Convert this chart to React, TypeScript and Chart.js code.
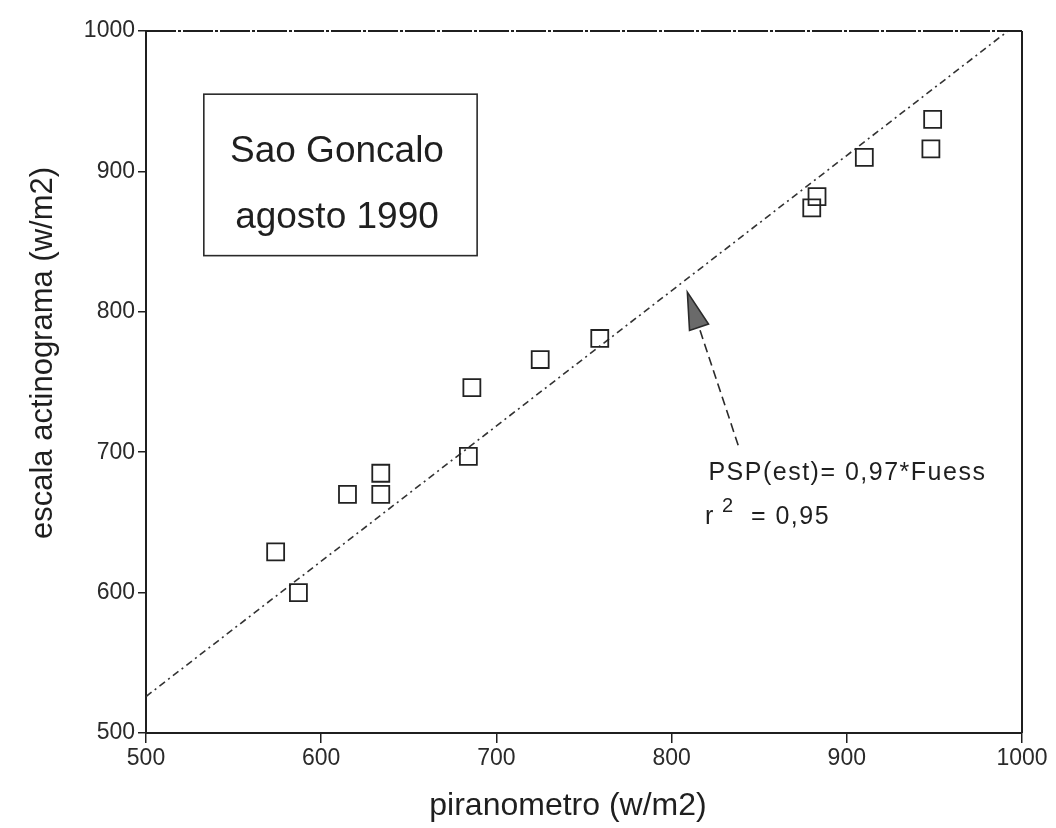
import React, { useEffect, useRef } from "react";
import { Chart, registerables } from "chart.js";

Chart.register(...registerables);

// Measurements: piranometro vs escala actinograma (w/m2)
const piranometro = [574, 587, 615, 634, 634, 684, 686, 725, 759, 880, 883, 910, 949, 948];
const actinograma = [629, 600, 670, 685, 670, 697, 746, 766, 781, 874, 882, 910, 937, 916];

// Fitted line end points
const fitX = [500, 992];
const fitY = [526, 1000];

const axisMin = 500;
const axisMax = 1000;
const axisStep = 100;

const xTitle = "piranometro (w/m2)";
const yTitle = "escala actinograma (w/m2)";
const stationLines = ["Sao Goncalo", "agosto 1990"];
const fitLabel = "PSP(est)= 0,97*Fuess";
const r2Value = "= 0,95";

// Annotation anchors, in axis units
const boxX = [533, 689];
const boxY = [955, 840];
const stationTextX = 609;
const stationBaselines = [907, 860];
const arrowTip = { x: 809, y: 814 };
const arrowTail = { x: 838, y: 705 };
const fitLabelAt = { x: 821, y: 680 };
const r2LabelAt = { x: 819, y: 649 };

const FONT = "'Liberation Sans', Arial, Helvetica, sans-serif";
const INK = "#1f1f1f";

const decorations = {
  id: "decorations",
  afterDatasetsDraw(chart: any) {
    const { ctx, chartArea: a, scales } = chart;
    const sx = scales.x;
    const sy = scales.y;
    const px = (v: number) => sx.getPixelForValue(v);
    const py = (v: number) => sy.getPixelForValue(v);

    ctx.save();

    // top and right edges of the frame
    ctx.strokeStyle = INK;
    ctx.lineWidth = 2;
    ctx.setLineDash([30, 2, 3, 2]);
    ctx.beginPath();
    ctx.moveTo(a.left, a.top);
    ctx.lineTo(a.right, a.top);
    ctx.stroke();
    ctx.setLineDash([]);
    ctx.beginPath();
    ctx.moveTo(a.right, a.top);
    ctx.lineTo(a.right, a.bottom);
    ctx.stroke();

    // station box
    const bx0 = px(boxX[0]);
    const bx1 = px(boxX[1]);
    const by0 = py(boxY[0]);
    const by1 = py(boxY[1]);
    ctx.lineWidth = 1.6;
    ctx.strokeStyle = "#2a2a2a";
    ctx.strokeRect(bx0, by0, bx1 - bx0, by1 - by0);
    ctx.fillStyle = INK;
    ctx.font = `37px ${FONT}`;
    ctx.textAlign = "center";
    ctx.textBaseline = "alphabetic";
    stationLines.forEach((t, i) => ctx.fillText(t, px(stationTextX), py(stationBaselines[i])));

    // arrow pointing at the fitted line
    const tx = px(arrowTip.x);
    const ty = py(arrowTip.y);
    const lx = px(arrowTail.x);
    const ly = py(arrowTail.y);
    const len = Math.hypot(tx - lx, ty - ly);
    const ux = (tx - lx) / len;
    const uy = (ty - ly) / len;
    const headLen = 37;
    const headHalf = 10;
    const bcx = tx - ux * headLen;
    const bcy = ty - uy * headLen;
    ctx.strokeStyle = "#2a2a2a";
    ctx.lineWidth = 1.6;
    ctx.setLineDash([9, 5]);
    ctx.beginPath();
    ctx.moveTo(lx, ly);
    ctx.lineTo(bcx, bcy);
    ctx.stroke();
    ctx.setLineDash([]);
    ctx.beginPath();
    ctx.moveTo(tx, ty);
    ctx.lineTo(bcx - uy * headHalf, bcy + ux * headHalf);
    ctx.lineTo(bcx + uy * headHalf, bcy - ux * headHalf);
    ctx.closePath();
    ctx.fillStyle = "#6a6a6a";
    ctx.fill();
    ctx.stroke();

    // regression text
    ctx.fillStyle = INK;
    ctx.textAlign = "left";
    ctx.textBaseline = "alphabetic";
    ctx.font = `25px ${FONT}`;
    (ctx as any).letterSpacing = "1.5px";
    ctx.fillText(fitLabel, px(fitLabelAt.x), py(fitLabelAt.y));
    const rx = px(r2LabelAt.x);
    const ry = py(r2LabelAt.y);
    ctx.fillText("r", rx, ry);
    ctx.fillText(r2Value, rx + 46, ry);
    ctx.font = `20px ${FONT}`;
    ctx.fillText("2", rx + 17, ry - 12);
    (ctx as any).letterSpacing = "0px";

    // axis titles
    ctx.font = `32px ${FONT}`;
    ctx.textAlign = "center";
    ctx.fillText(xTitle, 568, 815);
    ctx.save();
    ctx.translate(52, 353);
    ctx.rotate(-Math.PI / 2);
    ctx.font = `31px ${FONT}`;
    ctx.fillText(yTitle, 0, 0);
    ctx.restore();

    ctx.restore();
  },
};

export default function App() {
  const canvasRef = useRef<HTMLCanvasElement>(null);

  useEffect(() => {
    const canvas = canvasRef.current;
    if (!canvas) return;

    const points = piranometro.map((v, i) => ({ x: v, y: actinograma[i] }));
    const fit = fitX.map((v, i) => ({ x: v, y: fitY[i] }));

    const tickFont = { family: FONT, size: 23 };
    const plainNumber = (v: any) => String(v);

    const chart = new Chart(canvas, {
      type: "scatter",
      data: {
        datasets: [
          {
            label: "medidas",
            data: points,
            pointStyle: "rect",
            pointRadius: 12,
            borderWidth: 1.8,
            borderColor: "#222",
            backgroundColor: "rgba(0,0,0,0)",
          },
          {
            label: "ajuste",
            data: fit,
            showLine: true,
            pointRadius: 0,
            borderColor: "#333",
            borderWidth: 1.6,
            borderDash: [7, 4, 2, 4],
          },
        ],
      },
      options: {
        responsive: false,
        animation: false,
        events: [],
        layout: { padding: { top: 31, right: 34, left: 0, bottom: 0 } },
        plugins: {
          legend: { display: false },
          tooltip: { enabled: false },
        },
        scales: {
          x: {
            type: "linear",
            min: axisMin,
            max: axisMax,
            afterFit: (s: any) => {
              s.height = 95;
            },
            ticks: { stepSize: axisStep, font: tickFont, color: "#2a2a2a", padding: 2, maxRotation: 0, callback: plainNumber },
            grid: { drawOnChartArea: false, drawTicks: true, tickLength: 10, color: INK, lineWidth: 1.5 },
            border: { display: true, color: INK, width: 2, dash: [24, 2, 3, 2] },
          },
          y: {
            type: "linear",
            min: axisMin,
            max: axisMax,
            afterFit: (s: any) => {
              s.width = 146;
            },
            ticks: { stepSize: axisStep, font: tickFont, color: "#2a2a2a", padding: 3, callback: plainNumber },
            grid: { drawOnChartArea: false, drawTicks: true, tickLength: 8, color: INK, lineWidth: 1.5 },
            border: { display: true, color: INK, width: 2 },
          },
        },
      },
      plugins: [decorations],
    } as any);

    return () => chart.destroy();
  }, []);

  return (
    <div style={{ position: "fixed", left: 0, top: 0, width: 1056, height: 828, background: "#fff" }}>
      <canvas ref={canvasRef} width={1056} height={828} style={{ display: "block" }} />
    </div>
  );
}
